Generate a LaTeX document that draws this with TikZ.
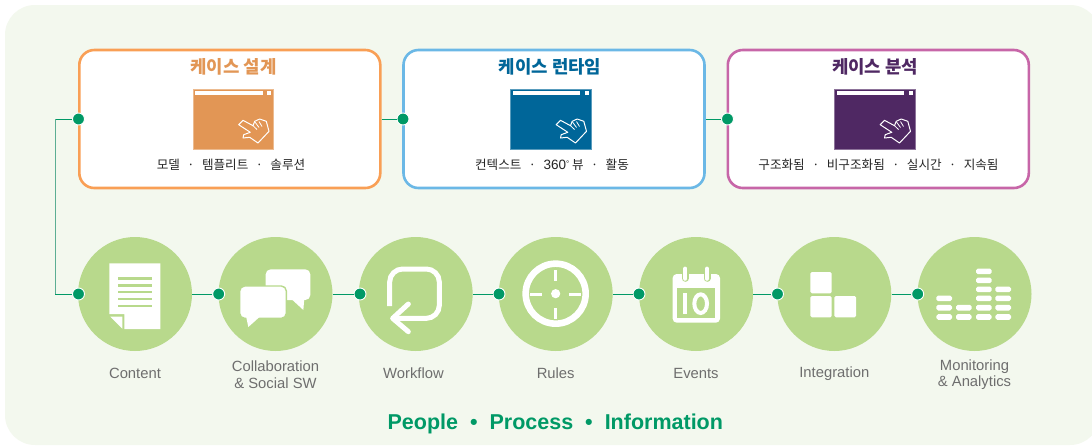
\documentclass[tikz,border=0pt]{standalone}
\usepackage{fontspec}
\setmainfont{Liberation Sans}
\newfontfamily\krfont{Noto Sans CJK KR}
\definecolor{bgc}{HTML}{F3F8EE}
\definecolor{grn}{HTML}{009966}
\definecolor{lgrn}{HTML}{B8D98C}
\definecolor{lblc}{HTML}{6E6E6E}
\definecolor{orgb}{HTML}{F99F55}
\definecolor{orgf}{HTML}{E29655}
\definecolor{blub}{HTML}{6BB8E6}
\definecolor{bluf}{HTML}{006699}
\definecolor{purb}{HTML}{C766A8}
\definecolor{purf}{HTML}{4F2863}
\tikzset{
  x=1pt,y=-1pt,
  casebox/.style={draw,fill=white,line width=2.6pt,rounded corners=15pt,minimum width=301pt,minimum height=138pt,inner sep=0pt},
  round node/.style={circle,fill=lgrn,minimum size=114pt,inner sep=0pt},
  pin node/.style={circle,fill=grn,draw=white,line width=0.9pt,minimum size=12pt,inner sep=0pt},
  link/.style={grn,line width=1pt},
  title text/.style={font=\krfont\bfseries\fontsize{17.8}{20}\selectfont,inner sep=0pt},
  sub text/.style={font=\krfont\fontsize{12.6}{15}\selectfont,text=black!85,inner sep=0pt},
  lbl text/.style={font=\fontsize{14.8}{16.5}\selectfont,text=lblc,align=center,inner sep=0pt},
  zoomed/.style={x=0.33333pt,y=-0.33333pt},
}
\newcommand{\wicon}[3]{%
  \begin{scope}[shift={(#1,#2)}]
    \fill[#3,draw=#3!65!white,line width=0.4pt] (0,0) rectangle (80.5,60);
    \fill[white] (2,2) rectangle (69.7,6);
    \fill[white] (74,2) rectangle (78,6);
    \draw[white,line width=1pt,line join=round,fill=#3]
      (50,31.3) -- (60,36.7) -- (61.7,32.3) -- (66.7,30) -- (73.3,32.3) -- (76,42.3)
      -- (65,54) -- (56.7,48.3) -- (50,49) -- (50.7,45.7) -- (57.3,43.3) -- (45.7,35.7) -- cycle;
    \draw[white,line width=0.8pt] (60,36.7) -- (64,40.5) (66,32.5) -- (69,37.5) (62,33) -- (66,38.5);
  \end{scope}}
\begin{document}
\begin{tikzpicture}
\useasboundingbox (0,0) rectangle (1092,445);
\fill[white] (0,0) rectangle (1092,445);
\begin{scope}
\clip (0,0) rectangle (1092,445);
\fill[bgc,rounded corners=30pt] (5,5) rectangle (1100,445);
\end{scope}

% case boxes
\node[casebox,draw=orgb] (b1) at (229.8,119) {};
\node[casebox,draw=blub] (b2) at (554,119) {};
\node[casebox,draw=purb] (b3) at (878.3,119) {};
\node[title text,text=orgf] (t1) at (233.5,66.5) {케이스 설계};
\node[title text,text=bluf] (t2) at (550,66.5) {케이스 런타임};
\node[title text,text=purf] (t3) at (875,66.5) {케이스 분석};
\wicon{193}{89}{orgf}
\wicon{510.5}{89}{bluf}
\wicon{834.5}{89}{purf}
\node[sub text] (s1) at (231,165) {모델\hspace{7.5pt}·\hspace{7.5pt}템플리트\hspace{7.5pt}·\hspace{7.5pt}솔루션};
\node[sub text] (s2) at (552,165) {컨텍스트\hspace{7.5pt}·\hspace{7.5pt}{\fontspec{Liberation Sans}\fontsize{13.5}{15}\selectfont 360\raisebox{3pt}{\fontsize{8}{8}\selectfont°}} 뷰\hspace{7.5pt}·\hspace{7.5pt}활동};
\node[sub text] (s3) at (878.5,165) {구조화됨\hspace{7.5pt}·\hspace{7.5pt}비구조화됨\hspace{7.5pt}·\hspace{7.5pt}실시간\hspace{7.5pt}·\hspace{7.5pt}지속됨};

% circles
\node[round node] (c1) at (135,294) {};
\node[round node] (c2) at (275.5,294) {};
\node[round node] (c3) at (415.7,294) {};
\node[round node] (c4) at (555.7,294) {};
\node[round node] (c5) at (696,294) {};
\node[round node] (c6) at (834.3,294) {};
\node[round node] (c7) at (974.5,294) {};

% pins
\node[pin node] (p1) at (78.5,119) {};
\node[pin node] (p2) at (403,119) {};
\node[pin node] (p3) at (727.5,119) {};
\node[pin node] (d1) at (78.5,294) {};
\node[pin node] (d2) at (218.7,294) {};
\node[pin node] (d3) at (360,294) {};
\node[pin node] (d4) at (499,294) {};
\node[pin node] (d5) at (639,294) {};
\node[pin node] (d6) at (777.5,294) {};
\node[pin node] (d7) at (917.7,294) {};

% connectors
\coordinate (e1) at (55,119);
\coordinate (e2) at (55,294);
\draw[link] (b1) -- (p2);
\draw[link] (b2) -- (p3);
\draw[link] (p1) -- (e1);
\draw[grn!60!white!90!black,line width=1pt] (e1) -- (e2);
\draw[link] (e2) -- (d1);
\draw[link] (c1) -- (d2);
\draw[link] (c2) -- (d3);
\draw[link] (c3) -- (d4);
\draw[link] (c4) -- (d5);
\draw[link] (c5) -- (d6);
\draw[link] (c6) -- (d7);

% content icon + chat + workflow
\begin{scope}[shift={(40,230)},zoomed]
  \fill[white] (208,100) -- (361,100) -- (361,297) -- (253,297) -- (253,252) -- (208,252) -- cycle;
  \fill[white] (211,260) -- (247,260) -- (247,296) -- cycle;
  \foreach \yy in {145,166,186,207,228}
    \fill[lgrn] (234,\yy-3.5) rectangle (335,\yy+3.5);
  \fill[white,rounded corners=5pt] (677,118) rectangle (811,210);
  \fill[white] (752,205) -- (790,240) -- (793,205) -- cycle;
  \fill[white,rounded corners=5pt,draw=lgrn,line width=1.4pt] (599,168) rectangle (739,265);
  \fill[white] (618,258) -- (625,291) -- (662,258) -- cycle;
  \draw[white,line width=5pt,rounded corners=13pt] (1049,228) -- (1049,117) -- (1198,117) -- (1198,265) -- (1062,265);
  \draw[white,line width=5pt,line cap=round,line join=round] (1105,222) -- (1058,265) -- (1105,305);
\end{scope}

% rules + events
\begin{scope}[shift={(480,230)},zoomed]
  \draw[white,line width=6.6pt] (227,191) circle[radius=30pt];
  \fill[white] (227,191) circle[radius=4.6pt];
  \draw[white,line width=2.7pt]
    (227,120) -- (227,153) (227,235) -- (227,267)
    (150,193) -- (186,193) (267,193) -- (303,193);
  \fill[white,rounded corners=4pt] (578,132) rectangle (720,278);
  \fill[lgrn] (592,173) rectangle (706,265);
  \draw[lgrn,line width=7pt,line cap=round] (616,118) -- (616,145) (681,118) -- (681,145);
  \draw[white,line width=4.2pt,line cap=round] (616,116) -- (616,146) (681,116) -- (681,146);
  \fill[white] (610,190) rectangle (622,252);
  \draw[white,line width=4pt] (662,221) ellipse[x radius=19,y radius=28];
\end{scope}

% integration + monitoring
\begin{scope}[shift={(770,230)},zoomed]
  \fill[white,rounded corners=1.5pt] (121,126) rectangle (185,190);
  \fill[white,rounded corners=1.5pt] (121,198) rectangle (185,262);
  \fill[white,rounded corners=1.5pt] (193,198) rectangle (258,262);
  \foreach \xx/\rows in {499/{261,233,205},558/{261,233},618/{261,233,205,178,151,124},676/{261,233,205,178}}
    \foreach \yy in \rows
      \fill[white,rounded corners=1.8pt] (\xx,\yy-8.5) rectangle (\xx+47,\yy+8.5);
\end{scope}

% labels
\node[lbl text] (l1) at (135,373.5) {Content};
\node[lbl text] (l2) at (275.5,374.5) {Collaboration\\\& Social SW};
\node[lbl text] (l3) at (413.5,373.5) {Workflow};
\node[lbl text] (l4) at (555.7,373.5) {Rules};
\node[lbl text] (l5) at (696,373.5) {Events};
\node[lbl text] (l6) at (834.3,373.5) {Integration};
\node[lbl text] (l7) at (974.5,374.5) {Monitoring\\\& Analytics};

\node[font=\bfseries\fontsize{21.5}{24}\selectfont,text=grn,inner sep=0pt] (foot) at (555.3,424)
  {People\hspace{12pt}•\hspace{12pt}Process\hspace{12pt}•\hspace{12pt}Information};
\end{tikzpicture}
\end{document}
